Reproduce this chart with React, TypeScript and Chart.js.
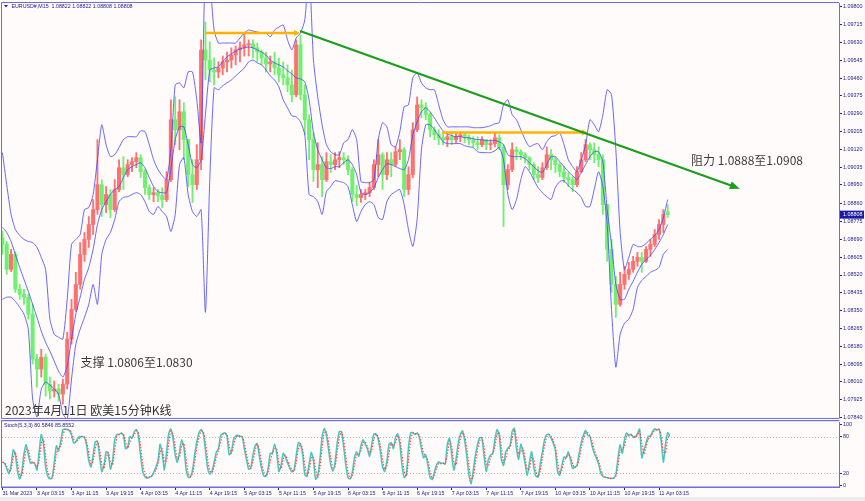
import React, { useEffect, useRef } from "react";
import { Chart, registerables } from "chart.js";

Chart.register(...registerables);

// ---------- DATA (hourly candles, index 0 = 31 Mar 19:15) ----------
const openPrices = [
  1.08699, 1.08666, 1.08547, 1.08618, 1.08452, 1.08428, 1.08414, 1.08333, 1.08118, 1.08071,
  1.08128, 1.07999, 1.07966, 1.07976, 1.07952, 1.07999, 1.08214, 1.08356, 1.08475, 1.08618,
  1.08690, 1.08761, 1.08832, 1.08951, 1.08856, 1.08904, 1.08832, 1.08928, 1.09032, 1.08999,
  1.09047, 1.09061, 1.09080, 1.09013, 1.08937, 1.08904, 1.08913, 1.08899, 1.08880, 1.08975,
  1.09261, 1.09213, 1.09299, 1.09166, 1.08999, 1.08951, 1.09070, 1.09594, 1.09546, 1.09499,
  1.09489, 1.09508, 1.09537, 1.09546, 1.09570, 1.09594, 1.09604, 1.09618, 1.09623, 1.09604,
  1.09584, 1.09556, 1.09527, 1.09537, 1.09508, 1.09475, 1.09461, 1.09427, 1.09380, 1.09618,
  1.09380, 1.09261, 1.09166, 1.09023, 1.09047, 1.08975, 1.09061, 1.09047, 1.09070, 1.09080,
  1.09070, 1.09023, 1.08904, 1.08890, 1.08904, 1.08913, 1.08937, 1.09047, 1.09094, 1.08999,
  1.09070, 1.09047, 1.09108, 1.09118, 1.08928, 1.08999, 1.09213, 1.09332, 1.09318, 1.09285,
  1.09213, 1.09189, 1.09175, 1.09166, 1.09180, 1.09166, 1.09180, 1.09189, 1.09175, 1.09166,
  1.09151, 1.09142, 1.09166, 1.09142, 1.09147, 1.09175, 1.09128, 1.08951, 1.09023, 1.09118,
  1.09108, 1.09094, 1.09080, 1.09047, 1.08999, 1.08985, 1.09032, 1.09094, 1.09070, 1.09047,
  1.09013, 1.08985, 1.08975, 1.08951, 1.09013, 1.09070, 1.09142, 1.09118, 1.09094, 1.09070,
  1.08856, 1.08642, 1.08475, 1.08380, 1.08475, 1.08523, 1.08547, 1.08585, 1.08604, 1.08585,
  1.08642, 1.08666, 1.08713, 1.08761, 1.08822,
];
const highPrices = [
  1.08728, 1.08680, 1.08642, 1.08632, 1.08475, 1.08452, 1.08428, 1.08380, 1.08142, 1.08166,
  1.08142, 1.08033, 1.08014, 1.07999, 1.08023, 1.08247, 1.08404, 1.08533, 1.08675, 1.08723,
  1.08799, 1.08880, 1.09166, 1.08975, 1.08942, 1.08928, 1.08975, 1.09070, 1.09085, 1.09070,
  1.09080, 1.09104, 1.09094, 1.09023, 1.08951, 1.08937, 1.08928, 1.08937, 1.09013, 1.09356,
  1.09370, 1.09356, 1.09342, 1.09166, 1.09070, 1.09142, 1.09642, 1.09727, 1.09632, 1.09556,
  1.09537, 1.09565, 1.09584, 1.09604, 1.09613, 1.09632, 1.09675, 1.09642, 1.09642, 1.09627,
  1.09594, 1.09584, 1.09565, 1.09584, 1.09556, 1.09537, 1.09523, 1.09499, 1.09642, 1.09665,
  1.09427, 1.09285, 1.09199, 1.09151, 1.09085, 1.09104, 1.09094, 1.09104, 1.09108, 1.09104,
  1.09089, 1.09032, 1.08947, 1.08928, 1.08928, 1.08961, 1.09070, 1.09166, 1.09104, 1.09104,
  1.09104, 1.09132, 1.09166, 1.09128, 1.09037, 1.09247, 1.09370, 1.09356, 1.09342, 1.09294,
  1.09227, 1.09213, 1.09199, 1.09199, 1.09204, 1.09199, 1.09204, 1.09199, 1.09189, 1.09180,
  1.09180, 1.09180, 1.09166, 1.09166, 1.09199, 1.09189, 1.09142, 1.09047, 1.09151, 1.09132,
  1.09118, 1.09104, 1.09085, 1.09056, 1.09037, 1.09056, 1.09132, 1.09118, 1.09085, 1.09056,
  1.09037, 1.09009, 1.08989, 1.09037, 1.09104, 1.09166, 1.09151, 1.09151, 1.09132, 1.09094,
  1.08856, 1.08690, 1.08513, 1.08533, 1.08561, 1.08580, 1.08609, 1.08628, 1.08628, 1.08656,
  1.08690, 1.08737, 1.08785, 1.08832, 1.08856,
];
const lowPrices = [
  1.08618, 1.08523, 1.08537, 1.08437, 1.08404, 1.08380, 1.08309, 1.08095, 1.07985, 1.08033,
  1.07942, 1.07928, 1.07938, 1.07918, 1.07904, 1.07976, 1.08190, 1.08347, 1.08452, 1.08585,
  1.08652, 1.08713, 1.08809, 1.08799, 1.08818, 1.08794, 1.08823, 1.08918, 1.08928, 1.08989,
  1.09013, 1.09032, 1.08985, 1.08904, 1.08880, 1.08870, 1.08870, 1.08842, 1.08870, 1.08966,
  1.09142, 1.09118, 1.09070, 1.08942, 1.08866, 1.08928, 1.09023, 1.09451, 1.09442, 1.09427,
  1.09461, 1.09475, 1.09489, 1.09508, 1.09523, 1.09537, 1.09565, 1.09565, 1.09556, 1.09537,
  1.09523, 1.09489, 1.09489, 1.09475, 1.09442, 1.09427, 1.09394, 1.09346, 1.09370, 1.09356,
  1.09189, 1.09070, 1.08966, 1.08937, 1.08894, 1.08966, 1.09009, 1.09023, 1.09032, 1.09047,
  1.08999, 1.08870, 1.08851, 1.08866, 1.08880, 1.08894, 1.08928, 1.08989, 1.08928, 1.08975,
  1.08989, 1.09037, 1.09070, 1.08894, 1.08904, 1.08985, 1.09204, 1.09270, 1.09261, 1.09180,
  1.09166, 1.09142, 1.09142, 1.09132, 1.09142, 1.09151, 1.09156, 1.09151, 1.09142, 1.09132,
  1.09118, 1.09132, 1.09118, 1.09118, 1.09132, 1.09118, 1.08751, 1.08928, 1.09013, 1.09070,
  1.09070, 1.09056, 1.09023, 1.08975, 1.08961, 1.08975, 1.09023, 1.09023, 1.09009, 1.08989,
  1.08961, 1.08942, 1.08918, 1.08942, 1.09009, 1.09061, 1.09070, 1.09056, 1.09037, 1.08809,
  1.08585, 1.08437, 1.08318, 1.08371, 1.08452, 1.08499, 1.08533, 1.08561, 1.08533, 1.08580,
  1.08609, 1.08656, 1.08690, 1.08723, 1.08794,
];
const closePrices = [
  1.08666, 1.08547, 1.08618, 1.08452, 1.08428, 1.08414, 1.08333, 1.08118, 1.08071, 1.08128,
  1.07999, 1.07966, 1.07976, 1.07952, 1.07999, 1.08214, 1.08356, 1.08475, 1.08618, 1.08690,
  1.08761, 1.08832, 1.08951, 1.08856, 1.08904, 1.08832, 1.08928, 1.09032, 1.08999, 1.09047,
  1.09061, 1.09080, 1.09013, 1.08937, 1.08904, 1.08913, 1.08899, 1.08880, 1.08975, 1.09261,
  1.09213, 1.09299, 1.09166, 1.08999, 1.08951, 1.09070, 1.09594, 1.09546, 1.09499, 1.09489,
  1.09508, 1.09537, 1.09546, 1.09570, 1.09594, 1.09604, 1.09618, 1.09623, 1.09604, 1.09584,
  1.09556, 1.09527, 1.09537, 1.09508, 1.09475, 1.09461, 1.09427, 1.09380, 1.09618, 1.09380,
  1.09261, 1.09166, 1.09023, 1.09047, 1.08975, 1.09061, 1.09047, 1.09070, 1.09080, 1.09070,
  1.09023, 1.08904, 1.08890, 1.08904, 1.08913, 1.08937, 1.09047, 1.09094, 1.08999, 1.09070,
  1.09047, 1.09108, 1.09118, 1.08928, 1.08999, 1.09213, 1.09332, 1.09318, 1.09285, 1.09213,
  1.09189, 1.09175, 1.09166, 1.09180, 1.09166, 1.09180, 1.09189, 1.09175, 1.09166, 1.09151,
  1.09142, 1.09166, 1.09142, 1.09147, 1.09175, 1.09128, 1.08951, 1.09023, 1.09118, 1.09108,
  1.09094, 1.09080, 1.09047, 1.08999, 1.08985, 1.09032, 1.09094, 1.09070, 1.09047, 1.09013,
  1.08985, 1.08975, 1.08951, 1.09013, 1.09070, 1.09142, 1.09118, 1.09094, 1.09070, 1.08856,
  1.08642, 1.08475, 1.08380, 1.08475, 1.08523, 1.08547, 1.08585, 1.08604, 1.08585, 1.08642,
  1.08666, 1.08713, 1.08761, 1.08809, 1.08808,
];
const bbUpper = [
  1.09104, 1.08951, 1.08809, 1.08737, 1.08709, 1.08690, 1.08680, 1.08675, 1.08652, 1.08604,
  1.08547, 1.08309, 1.08237, 1.08223, 1.08214, 1.08404, 1.08666, 1.08690, 1.08713, 1.08832,
  1.08842, 1.08904, 1.09070, 1.09237, 1.09142, 1.09085, 1.09094, 1.09128, 1.09166, 1.09180,
  1.09180, 1.09180, 1.09208, 1.09204, 1.09142, 1.09070, 1.09023, 1.08994, 1.08975, 1.09118,
  1.09427, 1.09437, 1.09413, 1.09489, 1.09489, 1.09356, 1.09151, 1.10022, 1.09927, 1.09689,
  1.09627, 1.09627, 1.09627, 1.09627, 1.09627, 1.09651, 1.09675, 1.09689, 1.09684, 1.09680,
  1.09675, 1.09675, 1.09656, 1.09689, 1.09703, 1.09713, 1.09642, 1.09594, 1.09651, 1.09675,
  1.09737, 1.09975, 1.09546, 1.09370, 1.09237, 1.09142, 1.09108, 1.09094, 1.09094, 1.09151,
  1.09166, 1.09213, 1.09166, 1.08966, 1.08961, 1.08961, 1.08975, 1.09166, 1.09247, 1.09227,
  1.09142, 1.09132, 1.09204, 1.09323, 1.09332, 1.09461, 1.09485, 1.09437, 1.09413, 1.09404,
  1.09404, 1.09332, 1.09261, 1.09227, 1.09227, 1.09227, 1.09227, 1.09227, 1.09227, 1.09223,
  1.09223, 1.09223, 1.09227, 1.09232, 1.09242, 1.09247, 1.09332, 1.09356, 1.09285, 1.09261,
  1.09213, 1.09166, 1.09132, 1.09142, 1.09147, 1.09118, 1.09156, 1.09180, 1.09185, 1.09199,
  1.09142, 1.09070, 1.09037, 1.09013, 1.09070, 1.09142, 1.09261, 1.09237, 1.09204, 1.09285,
  1.09404, 1.09380, 1.09118, 1.08723, 1.08547, 1.08604, 1.08666, 1.08656, 1.08656, 1.08671,
  1.08690, 1.08709, 1.08737, 1.08794, 1.08880,
];
const bbMiddle = [
  1.08747, 1.08723, 1.08680, 1.08618, 1.08556, 1.08499, 1.08442, 1.08380, 1.08318, 1.08252,
  1.08199, 1.08156, 1.08109, 1.08061, 1.08033, 1.08085, 1.08214, 1.08333, 1.08414, 1.08499,
  1.08556, 1.08642, 1.08761, 1.08832, 1.08870, 1.08904, 1.08928, 1.08942, 1.08985, 1.09023,
  1.09037, 1.09047, 1.09056, 1.09032, 1.08985, 1.08942, 1.08918, 1.08913, 1.08913, 1.09023,
  1.09166, 1.09227, 1.09227, 1.09142, 1.09047, 1.09032, 1.09070, 1.09285, 1.09499, 1.09508,
  1.09513, 1.09537, 1.09561, 1.09575, 1.09589, 1.09599, 1.09604, 1.09608, 1.09604, 1.09594,
  1.09584, 1.09570, 1.09546, 1.09532, 1.09523, 1.09513, 1.09494, 1.09480, 1.09461, 1.09456,
  1.09442, 1.09356, 1.09199, 1.09118, 1.09070, 1.09032, 1.09028, 1.09037, 1.09037, 1.09056,
  1.09070, 1.09047, 1.08999, 1.08913, 1.08904, 1.08913, 1.08937, 1.08985, 1.09023, 1.09051,
  1.09047, 1.09037, 1.09028, 1.09023, 1.09070, 1.09189, 1.09251, 1.09299, 1.09318, 1.09299,
  1.09270, 1.09237, 1.09208, 1.09194, 1.09185, 1.09180, 1.09180, 1.09175, 1.09175, 1.09170,
  1.09166, 1.09166, 1.09161, 1.09161, 1.09161, 1.09156, 1.09142, 1.09094, 1.09085, 1.09085,
  1.09085, 1.09075, 1.09056, 1.09037, 1.09018, 1.09009, 1.09047, 1.09085, 1.09085, 1.09061,
  1.09037, 1.09013, 1.08994, 1.08975, 1.09009, 1.09047, 1.09085, 1.09108, 1.09108, 1.09061,
  1.08832, 1.08666, 1.08475, 1.08404, 1.08404, 1.08452, 1.08490, 1.08533, 1.08571, 1.08594,
  1.08613, 1.08642, 1.08675, 1.08713, 1.08761,
];
const bbLower = [
  1.08404, 1.08414, 1.08414, 1.08394, 1.08366, 1.08333, 1.08261, 1.07928, 1.07842, 1.07976,
  1.08009, 1.07995, 1.07976, 1.07952, 1.07857, 1.07833, 1.08023, 1.08190, 1.08261, 1.08318,
  1.08380, 1.08475, 1.08380, 1.08618, 1.08690, 1.08723, 1.08785, 1.08870, 1.08890, 1.08894,
  1.08904, 1.08913, 1.08904, 1.08870, 1.08823, 1.08809, 1.08847, 1.08823, 1.08799, 1.08728,
  1.08809, 1.09047, 1.09080, 1.08904, 1.08823, 1.08799, 1.08832, 1.08342, 1.08975, 1.09413,
  1.09404, 1.09423, 1.09437, 1.09451, 1.09470, 1.09489, 1.09508, 1.09537, 1.09546, 1.09532,
  1.09523, 1.09499, 1.09470, 1.09451, 1.09418, 1.09356, 1.09318, 1.09280, 1.09275, 1.09251,
  1.09189, 1.08904, 1.08894, 1.08870, 1.08809, 1.08918, 1.08942, 1.08970, 1.08966, 1.08961,
  1.08942, 1.08856, 1.08775, 1.08823, 1.08856, 1.08870, 1.08856, 1.08794, 1.08785, 1.08870,
  1.08904, 1.08918, 1.08928, 1.08856, 1.08737, 1.08656, 1.08785, 1.09118, 1.09237, 1.09237,
  1.09213, 1.09185, 1.09156, 1.09147, 1.09147, 1.09147, 1.09147, 1.09137, 1.09132, 1.09128,
  1.09108, 1.09104, 1.09104, 1.09104, 1.09113, 1.09128, 1.09070, 1.08904, 1.08832, 1.08880,
  1.08975, 1.09037, 1.09013, 1.08975, 1.08937, 1.08913, 1.08894, 1.08880, 1.08937, 1.08966,
  1.08970, 1.08947, 1.08928, 1.08913, 1.08890, 1.08847, 1.08847, 1.08928, 1.09013, 1.08942,
  1.08761, 1.08356, 1.08080, 1.08237, 1.08290, 1.08309, 1.08356, 1.08461, 1.08494, 1.08513,
  1.08533, 1.08542, 1.08556, 1.08618, 1.08642,
];
// Stochastic %K, sampled every half hour (sample k = candle index k/2)
const stochK = [
  38, 36, 27.5, 19, 32.5, 58.5, 50, 22.5, 10.5, 22.5,
  52.5, 66.5, 50, 36, 37.5, 35, 25, 55, 83.5, 67.5,
  30, 15, 10.5, 12.5, 37.5, 65, 56.5, 72.5, 91, 92.5,
  91.5, 90, 82.5, 69.5, 71.5, 77.5, 80, 80, 78.5, 65,
  40, 30, 50, 71.5, 72.5, 46.5, 22.5, 32.5, 55, 52.5,
  26.5, 40, 75, 83.5, 83.5, 86, 82.5, 60, 62.5, 80,
  77.5, 87.5, 91.5, 80, 47.5, 22.5, 14, 11.5, 13.5, 15,
  21, 29.5, 40, 67.5, 52.5, 25, 55, 85, 92.5, 76.5,
  50, 37.5, 55, 74.5, 62.5, 27.5, 13.5, 13.5, 25, 50,
  71.5, 86, 91.5, 85, 57.5, 28.5, 18.5, 23.5, 37.5, 54,
  60, 81.5, 85, 86, 80, 50, 55, 75, 81, 82,
  80, 80, 60, 42.5, 26.5, 28.5, 50, 65, 68.5, 46.5,
  27.5, 15.5, 14.5, 27.5, 52.5, 52.5, 67.5, 52.5, 22.5, 32.5,
  52.5, 46.5, 36.5, 28.5, 22, 25, 48.5, 70, 67.5, 50,
  17.5, 14.5, 35, 54, 40, 10, 15.5, 42.5, 80, 93.5,
  82.5, 58.5, 33.5, 23.5, 37.5, 70, 88.5, 87.5, 62.5, 32.5,
  12.5, 10.5, 21.5, 45, 55, 47.5, 65, 75, 67.5, 59.5,
  47.5, 67.5, 84.5, 84, 75, 55, 30, 22.5, 40, 67.5,
  70, 60, 78.5, 84.5, 67.5, 32.5, 12.5, 17.5, 62.5, 86,
  86.5, 83.5, 86, 78.5, 60, 45, 50, 32.5, 12.5, 9.5,
  22.5, 33.5, 38.5, 35.5, 36.5, 35, 67.5, 77.5, 50, 25,
  42.5, 68.5, 83.5, 89.5, 73.5, 47.5, 16.5, 2.5, 25, 50,
  67.5, 78.5, 77.5, 47.5, 22.5, 42.5, 49.5, 52.5, 75, 91.5,
  82.5, 42.5, 32.5, 55, 60.5, 65, 88.5, 93.5, 60, 42.5,
  67.5, 55, 35, 16.5, 37.5, 55, 30, 15, 13.5, 35,
  55, 75, 83.5, 83.5, 77.5, 69.5, 57.5, 22.5, 16.5, 32.5,
  46.5, 45, 55, 41.5, 27.5, 30, 32.5, 52.5, 70, 82.5,
  90.5, 82.5, 80, 64.5, 52.5, 45, 35, 20, 14.5, 13,
  12.5, 11.5, 11, 12, 17.5, 45, 66.5, 52.5, 75, 86,
  81, 84, 79, 79, 85, 92.5, 45, 57.5, 69.5, 80.5,
  80.5, 88.5, 93, 90.5, 92.5, 72.5, 38, 67.5, 86.5, 80.58,
];
const timeTickLabels = [
  "31 Mar 2023", "3 Apr 03:15", "3 Apr 11:15", "3 Apr 19:15", "4 Apr 03:15",
  "4 Apr 11:15", "4 Apr 19:15", "5 Apr 03:15", "5 Apr 11:15", "5 Apr 19:15",
  "6 Apr 03:15", "6 Apr 11:15", "6 Apr 19:15", "7 Apr 03:15", "7 Apr 11:15",
  "7 Apr 19:15", "10 Apr 03:15", "10 Apr 11:15", "10 Apr 19:15", "11 Apr 03:15",
];
const TICK_EVERY = 8; // candles between time labels
const priceTicks = [
  1.098, 1.09715, 1.0963, 1.09545, 1.0946, 1.09375, 1.0929, 1.09205, 1.0912, 1.09035,
  1.0895, 1.0886, 1.08775, 1.0869, 1.08605, 1.0852, 1.08435, 1.0835, 1.08265, 1.0818,
  1.08095, 1.0801, 1.07925, 1.0784,
];
const stochTicks = [0, 20, 80, 100];
const stochLevels = [20, 80];
const levelLines = [
  { from: 46.9, to: 68.9, price: 1.09675 },
  { from: 101.8, to: 135.5, price: 1.092 },
];
const trendLine = { from: 68.9, fromPrice: 1.09684, to: 170.7, toPrice: 1.08932 };
const textNotes = [
  { text: "阻力 1.0888至1.0908", at: 159.4, price: 1.09066 },
  { text: "支撑 1.0806至1.0830", at: 18.1, price: 1.08104 },
];
const captionText = "2023年4月11日 欧美15分钟K线";
const headerText = "EURUSD#,M15  1.08822 1.08822 1.08808 1.08808";
const stochText = "Stoch(5,3,3) 80.5846 85.8552";
const lastPrice = 1.08808;

// ---------- STYLE ----------
const BG = "#fffbfb";
const NAVY = "#23238f";
const FRAME = "#6c6ce0";
const BB_COLOR = "rgba(72,72,250,0.82)";
const UP = "#ff7070";
const DOWN = "#70f070";
const SMALL_FONT = "Liberation Sans";
const CJK_FONT = '"Noto Sans CJK SC", "Noto Sans", sans-serif';
const X_MIN = -0.0926;
const X_MAX = 193.657;
const PRICE_MIN = 1.07838;
const PRICE_MAX = 1.09818;
const STOCH_MIN = -2.8;
const STOCH_MAX = 103.8;

const candleColor = (i: number) => (closePrices[i] >= openPrices[i] ? UP : DOWN);

function arrowHead(ctx: CanvasRenderingContext2D, x1: number, y1: number, x2: number, y2: number, len: number, w: number, color: string) {
  const ang = Math.atan2(y2 - y1, x2 - x1);
  ctx.save();
  ctx.fillStyle = color;
  ctx.beginPath();
  ctx.moveTo(x2, y2);
  ctx.lineTo(x2 - len * Math.cos(ang) + (w / 2) * Math.sin(ang), y2 - len * Math.sin(ang) - (w / 2) * Math.cos(ang));
  ctx.lineTo(x2 - len * Math.cos(ang) - (w / 2) * Math.sin(ang), y2 - len * Math.sin(ang) + (w / 2) * Math.cos(ang));
  ctx.closePath();
  ctx.fill();
  ctx.restore();
}

const mainDecor = {
  id: "mainDecor",
  beforeDraw(chart: any) {
    const { ctx, width, height } = chart;
    ctx.save();
    ctx.fillStyle = BG;
    ctx.fillRect(0, 0, width, height);
    ctx.restore();
  },
  afterDatasetsDraw(chart: any) {
    const { ctx, scales } = chart;
    const x = scales.x;
    const y = scales.y;
    ctx.save();
    levelLines.forEach((l) => {
      const x1 = x.getPixelForValue(l.from);
      const x2 = x.getPixelForValue(l.to);
      const yy = y.getPixelForValue(l.price);
      ctx.strokeStyle = "#ffb300";
      ctx.lineWidth = 2.4;
      ctx.beginPath();
      ctx.moveTo(x1, yy);
      ctx.lineTo(x2 - 3, yy);
      ctx.stroke();
      arrowHead(ctx, x1, yy, x2, yy, 6, 6, "#ffb300");
    });
    const tx1 = x.getPixelForValue(trendLine.from);
    const ty1 = y.getPixelForValue(trendLine.fromPrice);
    const tx2 = x.getPixelForValue(trendLine.to);
    const ty2 = y.getPixelForValue(trendLine.toPrice);
    ctx.strokeStyle = "#1b9e1b";
    ctx.lineWidth = 2.2;
    ctx.beginPath();
    ctx.moveTo(tx1, ty1);
    ctx.lineTo(tx2 - 6, ty2 - 2.2);
    ctx.stroke();
    arrowHead(ctx, tx1, ty1, tx2, ty2, 10, 8, "#1b9e1b");
    ctx.fillStyle = "#3c3c3c";
    ctx.font = `12px ${CJK_FONT}`;
    ctx.textBaseline = "middle";
    ctx.textAlign = "left";
    textNotes.forEach((n) => {
      ctx.fillText(n.text, x.getPixelForValue(n.at), y.getPixelForValue(n.price));
    });
    ctx.restore();
  },
  afterDraw(chart: any) {
    const { ctx, chartArea: a, scales } = chart;
    const y = scales.y;
    ctx.save();
    ctx.fillStyle = "#333333";
    ctx.font = `12px ${CJK_FONT}`;
    ctx.textBaseline = "middle";
    ctx.fillText(captionText, a.left + 3, a.bottom - 7);
    ctx.strokeStyle = FRAME;
    ctx.lineWidth = 1;
    ctx.beginPath();
    ctx.moveTo(a.left - 0.5, a.bottom);
    ctx.lineTo(a.left - 0.5, a.top - 0.5);
    ctx.lineTo(a.right, a.top - 0.5);
    ctx.stroke();
    ctx.fillStyle = FRAME;
    ctx.fillRect(a.left - 1, a.bottom, a.right - a.left + 1.5, 1);
    ctx.fillStyle = NAVY;
    ctx.beginPath();
    ctx.moveTo(4, 5);
    ctx.lineTo(8, 5);
    ctx.lineTo(6, 7.5);
    ctx.closePath();
    ctx.fill();
    ctx.font = `5.3px ${SMALL_FONT}`;
    ctx.textBaseline = "middle";
    ctx.fillText(headerText, 11.5, 6.5);
    const py = y.getPixelForValue(lastPrice);
    ctx.fillStyle = "#1a1aa6";
    ctx.fillRect(a.right + 1, py - 4, 864 - a.right - 1, 8);
    ctx.fillStyle = "#ffffff";
    ctx.font = `5.4px ${SMALL_FONT}`;
    ctx.fillText(lastPrice.toFixed(5), a.right + 4, py + 0.3);
    ctx.restore();
  },
};

const stochDecor = {
  id: "stochDecor",
  beforeDraw(chart: any) {
    const { ctx, width, height } = chart;
    ctx.save();
    ctx.fillStyle = BG;
    ctx.fillRect(0, 0, width, height);
    ctx.restore();
  },
  beforeDatasetsDraw(chart: any) {
    const { ctx, chartArea: a, scales } = chart;
    ctx.save();
    ctx.strokeStyle = "#bdbdbd";
    ctx.lineWidth = 1;
    ctx.setLineDash([1, 2]);
    stochLevels.forEach((lv) => {
      const yy = Math.round(scales.y.getPixelForValue(lv)) + 0.5;
      ctx.beginPath();
      ctx.moveTo(a.left, yy);
      ctx.lineTo(a.right, yy);
      ctx.stroke();
    });
    ctx.restore();
  },
  afterDraw(chart: any) {
    const { ctx, chartArea: a } = chart;
    ctx.save();
    ctx.fillStyle = FRAME;
    ctx.fillRect(a.left - 1, 0, a.right - a.left + 1.5, 1.2);
    ctx.fillRect(a.left - 1, a.bottom - 0.5, a.right - a.left + 1.5, 1.5);
    ctx.fillRect(a.left - 1, 0, 1, a.bottom);
    ctx.fillStyle = NAVY;
    ctx.font = `5.3px ${SMALL_FONT}`;
    ctx.textBaseline = "middle";
    ctx.fillText(stochText, 4, 5.5);
    ctx.restore();
  },
};

export default function App() {
  const mainRef = useRef<HTMLCanvasElement>(null);
  const stochRef = useRef<HTMLCanvasElement>(null);

  useEffect(() => {
    const idx = closePrices.map((_, i) => i);
    const colors = idx.map(candleColor);
    const line = (arr: number[]) => ({
      type: "line" as const,
      data: arr.map((v, i) => ({ x: i, y: v })),
      borderColor: BB_COLOR,
      borderWidth: 1,
      pointRadius: 0,
      tension: 0.2,
      order: 0,
    });
    const yTickFont = { size: 5.4, family: SMALL_FONT, lineHeight: 0.4 };

    const main = new Chart(mainRef.current as HTMLCanvasElement, {
      type: "bar",
      data: {
        datasets: [
          line(bbUpper),
          line(bbMiddle),
          line(bbLower),
          {
            type: "bar",
            data: idx.map((i) => ({ x: i, y: [openPrices[i], closePrices[i]] })),
            backgroundColor: colors,
            barThickness: 3.4,
            grouped: false,
            borderWidth: 0,
            order: 1,
          } as any,
          {
            type: "bar",
            data: idx.map((i) => ({ x: i, y: [lowPrices[i], highPrices[i]] })),
            backgroundColor: colors,
            barThickness: 1.2,
            grouped: false,
            borderWidth: 0,
            order: 2,
          } as any,
        ],
      },
      options: {
        animation: false,
        responsive: false,
        events: [],
        layout: { padding: { left: 2, top: 3, right: 0, bottom: 1 } },
        plugins: { legend: { display: false }, tooltip: { enabled: false } },
        scales: {
          x: { type: "linear", min: X_MIN, max: X_MAX, display: false, offset: false },
          y: {
            position: "right",
            min: PRICE_MIN,
            max: PRICE_MAX,
            afterFit: (s: any) => {
              s.width = 26;
            },
            afterBuildTicks: (s: any) => {
              s.ticks = priceTicks.map((v) => ({ value: v }));
            },
            ticks: {
              callback: (v: any) => Number(v).toFixed(5),
              font: yTickFont,
              color: NAVY,
              padding: 1,
              autoSkip: false,
            },
            grid: { drawOnChartArea: false, drawTicks: true, tickLength: 3, tickColor: NAVY },
            border: { display: true, color: FRAME, width: 1 },
          },
        },
      } as any,
      plugins: [mainDecor],
    });

    const stochD = stochK.map((v, i) => (i === 0 ? v : (v + stochK[i - 1]) / 2));
    const stoch = new Chart(stochRef.current as HTMLCanvasElement, {
      type: "line",
      data: {
        datasets: [
          {
            data: stochD.map((v, k) => ({ x: k / 2, y: v })),
            borderColor: "#ff4646",
            borderWidth: 1.1,
            borderDash: [1.5, 1.5],
            pointRadius: 0,
            tension: 0.2,
          },
          {
            data: stochK.map((v, k) => ({ x: k / 2, y: v })),
            borderColor: "#45c8bc",
            borderWidth: 1.5,
            pointRadius: 0,
            tension: 0.2,
          },
        ],
      },
      options: {
        animation: false,
        responsive: false,
        events: [],
        layout: { padding: { left: 2, top: 2, right: 0, bottom: 0 } },
        plugins: { legend: { display: false }, tooltip: { enabled: false } },
        scales: {
          x: {
            type: "linear",
            min: X_MIN,
            max: X_MAX,
            offset: false,
            afterFit: (s: any) => {
              s.height = 10;
            },
            afterBuildTicks: (s: any) => {
              s.ticks = timeTickLabels.map((_, j) => ({ value: j * TICK_EVERY }));
            },
            ticks: {
              callback: (_v: any, i: number) => timeTickLabels[i],
              align: "start",
              font: { size: 5.3, family: SMALL_FONT },
              color: NAVY,
              padding: 0,
              autoSkip: false,
              maxRotation: 0,
              minRotation: 0,
            },
            grid: { drawOnChartArea: false, drawTicks: true, tickLength: 3, tickColor: NAVY },
            border: { display: false },
          },
          y: {
            position: "right",
            min: STOCH_MIN,
            max: STOCH_MAX,
            afterFit: (s: any) => {
              s.width = 26;
            },
            afterBuildTicks: (s: any) => {
              s.ticks = stochTicks.map((v) => ({ value: v }));
            },
            ticks: {
              callback: (v: any) => String(v),
              font: yTickFont,
              color: NAVY,
              padding: 1,
              autoSkip: false,
            },
            grid: { drawOnChartArea: false, drawTicks: true, tickLength: 3, tickColor: NAVY },
            border: { display: true, color: FRAME, width: 1 },
          },
        },
      } as any,
      plugins: [stochDecor],
    });

    return () => {
      main.destroy();
      stoch.destroy();
    };
  }, []);

  return (
    <div
      style={{
        position: "fixed",
        left: 0,
        top: 0,
        width: 865,
        height: 501,
        background: "#ececec",
        overflow: "hidden",
      }}
    >
      <div style={{ position: "absolute", left: 0, top: 0, width: 865, height: 420 }}>
        <canvas ref={mainRef} width={865} height={420} style={{ display: "block", width: 865, height: 420 }} />
      </div>
      <div style={{ position: "absolute", left: 0, top: 420, width: 865, height: 77 }}>
        <canvas ref={stochRef} width={865} height={77} style={{ display: "block", width: 865, height: 77 }} />
      </div>
    </div>
  );
}
